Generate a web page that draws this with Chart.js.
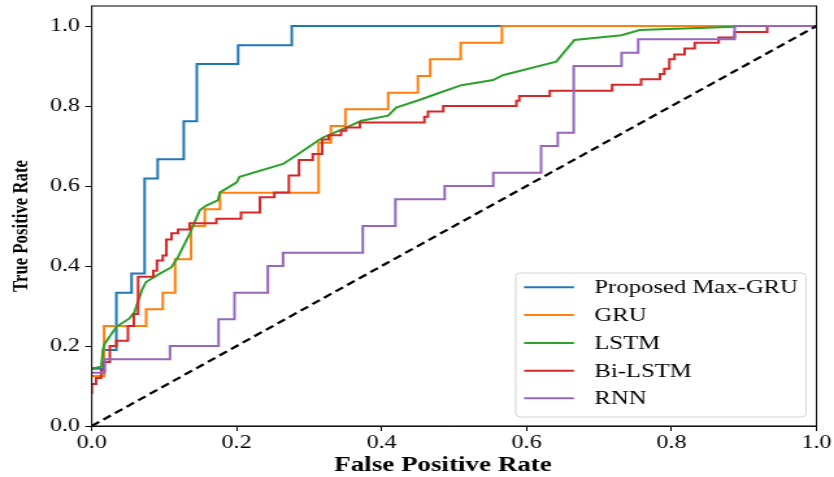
<!DOCTYPE html>
<html>
<head>
<meta charset="utf-8">
<script src="https://cdn.jsdelivr.net/npm/chart.js"></script>
<style>
  html, body { margin:0; padding:0; background:#fff; overflow:hidden; }
  #wrap { width:642px; height:477px; transform:scaleX(1.2991); transform-origin:0 0; }
</style>
</head>
<body>
<div id="wrap"><canvas id="c"></canvas></div>
<script>
// ---- data ----
const seriesNames = ['Proposed Max-GRU', 'GRU', 'LSTM', 'Bi-LSTM', 'RNN'];
const seriesColors = ['#1f77b4', '#ff7f0e', '#2ca02c', '#d62728', '#9467bd'];
const xTickLabels = ['0.0', '0.2', '0.4', '0.6', '0.8', '1.0'];
const yTickLabels = ['0.0', '0.2', '0.4', '0.6', '0.8', '1.0'];
const xAxisTitle = 'False Positive Rate';
const yAxisTitle = 'True Positive Rate';

const maxGruFpr = [0, 0.016, 0.016, 0.034, 0.034, 0.055, 0.055, 0.073, 0.073, 0.091, 0.091, 0.127, 0.127, 0.145, 0.145, 0.202, 0.202, 0.276, 0.276, 1];
const maxGruTpr = [0.143, 0.143, 0.190, 0.190, 0.333, 0.333, 0.381, 0.381, 0.619, 0.619, 0.667, 0.667, 0.762, 0.762, 0.905, 0.905, 0.952, 0.952, 1, 1];

const gruFpr = [0, 0.017, 0.017, 0.075, 0.075, 0.098, 0.098, 0.115, 0.115, 0.137, 0.137, 0.156, 0.156, 0.177, 0.177, 0.313, 0.313, 0.330, 0.330, 0.350, 0.350, 0.409, 0.409, 0.450, 0.450, 0.467, 0.467, 0.509, 0.509, 0.566, 0.566, 1];
const gruTpr = [0.125, 0.125, 0.250, 0.250, 0.292, 0.292, 0.333, 0.333, 0.417, 0.417, 0.500, 0.500, 0.542, 0.542, 0.583, 0.583, 0.708, 0.708, 0.750, 0.750, 0.792, 0.792, 0.833, 0.833, 0.875, 0.875, 0.917, 0.917, 0.958, 0.958, 1, 1];

const lstmFpr = [0, 0.013, 0.016, 0.018, 0.034, 0.052, 0.059, 0.069, 0.075, 0.094, 0.110, 0.119, 0.135, 0.149, 0.158, 0.174, 0.177, 0.200, 0.204, 0.264, 0.282, 0.312, 0.319, 0.351, 0.372, 0.409, 0.420, 0.452, 0.475, 0.510, 0.554, 0.567, 0.641, 0.666, 0.731, 0.756, 0.887, 0.887, 1];
const lstmTpr = [0.144, 0.148, 0.194, 0.206, 0.248, 0.269, 0.285, 0.339, 0.360, 0.381, 0.397, 0.422, 0.480, 0.539, 0.551, 0.564, 0.584, 0.609, 0.623, 0.655, 0.676, 0.713, 0.721, 0.746, 0.763, 0.776, 0.796, 0.815, 0.830, 0.852, 0.865, 0.877, 0.911, 0.965, 0.977, 0.990, 0.998, 1, 1];

const biLstmFpr = [0, 0, 0.006, 0.006, 0.013, 0.013, 0.017, 0.017, 0.025, 0.025, 0.034, 0.034, 0.050, 0.050, 0.058, 0.058, 0.064, 0.064, 0.085, 0.085, 0.090, 0.090, 0.098, 0.098, 0.103, 0.103, 0.110, 0.110, 0.119, 0.119, 0.135, 0.135, 0.172, 0.172, 0.206, 0.206, 0.232, 0.232, 0.252, 0.252, 0.272, 0.272, 0.286, 0.286, 0.305, 0.305, 0.318, 0.318, 0.327, 0.327, 0.344, 0.344, 0.351, 0.351, 0.370, 0.370, 0.459, 0.459, 0.464, 0.464, 0.485, 0.485, 0.586, 0.586, 0.590, 0.590, 0.632, 0.632, 0.718, 0.718, 0.758, 0.758, 0.784, 0.784, 0.790, 0.790, 0.797, 0.797, 0.804, 0.804, 0.818, 0.818, 0.832, 0.832, 0.865, 0.865, 0.887, 0.887, 0.932, 0.932, 1];
const biLstmTpr = [0.080, 0.105, 0.105, 0.120, 0.120, 0.140, 0.140, 0.160, 0.160, 0.200, 0.200, 0.213, 0.213, 0.250, 0.250, 0.280, 0.280, 0.373, 0.373, 0.388, 0.388, 0.414, 0.414, 0.426, 0.426, 0.466, 0.466, 0.482, 0.482, 0.491, 0.491, 0.507, 0.507, 0.518, 0.518, 0.534, 0.534, 0.572, 0.572, 0.584, 0.584, 0.626, 0.626, 0.665, 0.665, 0.680, 0.680, 0.716, 0.716, 0.727, 0.727, 0.738, 0.738, 0.746, 0.746, 0.759, 0.759, 0.773, 0.773, 0.786, 0.786, 0.800, 0.800, 0.813, 0.813, 0.825, 0.825, 0.838, 0.838, 0.853, 0.853, 0.867, 0.867, 0.880, 0.880, 0.893, 0.893, 0.917, 0.917, 0.929, 0.929, 0.944, 0.944, 0.958, 0.958, 0.971, 0.971, 0.985, 0.985, 1, 1];

const rnnFpr = [0, 0.018, 0.018, 0.108, 0.108, 0.175, 0.175, 0.197, 0.197, 0.243, 0.243, 0.264, 0.264, 0.374, 0.374, 0.419, 0.419, 0.487, 0.487, 0.554, 0.554, 0.620, 0.620, 0.643, 0.643, 0.665, 0.665, 0.731, 0.731, 0.754, 0.754, 0.887, 0.887, 1];
const rnnTpr = [0.133, 0.133, 0.167, 0.167, 0.200, 0.200, 0.267, 0.267, 0.333, 0.333, 0.400, 0.400, 0.433, 0.433, 0.500, 0.500, 0.567, 0.567, 0.600, 0.600, 0.633, 0.633, 0.700, 0.700, 0.733, 0.733, 0.900, 0.900, 0.933, 0.933, 0.967, 0.967, 1, 1];

const chanceFpr = [0, 1];
const chanceTpr = [0, 1];

// ---- build chart ----
const FONT = "'Liberation Serif', 'Times New Roman', Times, serif";
const fprs = [maxGruFpr, gruFpr, lstmFpr, biLstmFpr, rnnFpr];
const tprs = [maxGruTpr, gruTpr, lstmTpr, biLstmTpr, rnnTpr];
const toPts = (xs, ys) => xs.map((x, i) => ({x: x, y: ys[i]}));

const curveSets = seriesNames.map((name, i) => ({
  label: name,
  data: toPts(fprs[i], tprs[i]),
  borderColor: seriesColors[i],
  backgroundColor: seriesColors[i],
  borderWidth: 2,
  pointRadius: 0,
  tension: 0,
  fill: false
}));
// Chart.js paints dataset 0 last (on top): put later series first, like matplotlib z-order
const datasets = [{
  label: 'chance',
  data: toPts(chanceFpr, chanceTpr),
  borderColor: '#000',
  borderWidth: 2.2,
  borderDash: [7, 4],
  pointRadius: 0,
  fill: false
}].concat(curveSets.slice().reverse());

const framePlugin = {
  id: 'frame',
  afterDraw(chart) {
    const {ctx, chartArea: a} = chart;
    ctx.save();
    ctx.strokeStyle = '#111';
    ctx.lineWidth = 1.1;
    ctx.strokeRect(a.left, a.top, a.right - a.left, a.bottom - a.top);
    // axis titles (positioned as in the reference figure)
    ctx.fillStyle = '#000';
    ctx.textAlign = 'center';
    ctx.textBaseline = 'middle';
    ctx.font = 'bold 20.8px ' + FONT;
    ctx.fillText(xAxisTitle, 341, 466);
    ctx.translate(17, 226);
    ctx.rotate(-Math.PI / 2);
    ctx.font = 'bold 16.8px ' + FONT;
    ctx.fillText(yAxisTitle, 0, 0);
    ctx.restore();
  }
};

const legendPlugin = {
  id: 'mplLegend',
  afterDraw(chart) {
    const ctx = chart.ctx;
    const x0 = 397, y0 = 273, w = 223.4, h = 144, r = 3.5;
    ctx.save();
    ctx.beginPath();
    ctx.moveTo(x0 + r, y0);
    ctx.arcTo(x0 + w, y0, x0 + w, y0 + h, r);
    ctx.arcTo(x0 + w, y0 + h, x0, y0 + h, r);
    ctx.arcTo(x0, y0 + h, x0, y0, r);
    ctx.arcTo(x0, y0, x0 + w, y0, r);
    ctx.closePath();
    ctx.fillStyle = 'rgba(255,255,255,0.85)';
    ctx.fill();
    ctx.strokeStyle = '#d3d3d3';
    ctx.lineWidth = 1;
    ctx.stroke();
    const rowY = [287.3, 315, 343, 370.7, 398.3];
    ctx.font = '19px ' + FONT;
    ctx.textBaseline = 'middle';
    ctx.textAlign = 'left';
    seriesNames.forEach((name, i) => {
      ctx.beginPath();
      ctx.strokeStyle = seriesColors[i];
      ctx.lineWidth = 2;
      ctx.moveTo(403.4, rowY[i]);
      ctx.lineTo(441.8, rowY[i]);
      ctx.stroke();
      ctx.fillStyle = '#000';
      ctx.fillText(name, 457.5, rowY[i] + 1);
    });
    ctx.restore();
  }
};

new Chart(document.getElementById('c'), {
  type: 'line',
  data: { datasets: datasets },
  options: {
    responsive: true,
    maintainAspectRatio: false,
    animation: false,
    devicePixelRatio: 1,
    layout: { padding: { left: 0, right: 13.5, top: 6, bottom: 0 } },
    plugins: { legend: { display: false }, tooltip: { enabled: false } },
    scales: {
      x: {
        type: 'linear', min: 0, max: 1,
        ticks: {
          stepSize: 0.2, includeBounds: false, autoSkip: false, maxRotation: 0,
          callback: (v) => xTickLabels[Math.round(v / 0.2)],
          font: { family: FONT, size: 18.5 }, color: '#000', padding: 1
        },
        grid: { display: true, drawOnChartArea: false, drawTicks: true, tickLength: 5, tickWidth: 1, tickColor: '#000' },
        border: { display: true, color: '#111', width: 1 },
        title: { display: false },
        afterFit: (s) => { s.height = 51; s.paddingLeft = 0; s.paddingRight = 0; }
      },
      y: {
        type: 'linear', min: 0, max: 1.05,
        ticks: {
          stepSize: 0.2, includeBounds: false, autoSkip: false,
          callback: (v) => yTickLabels[Math.round(v / 0.2)],
          font: { family: FONT, size: 18.5 }, color: '#000', padding: 4
        },
        afterBuildTicks: (s) => { s.ticks = s.ticks.filter(t => t.value <= 1.0001); },
        grid: { display: true, drawOnChartArea: false, drawTicks: true, tickLength: 5, tickWidth: 1, tickColor: '#000' },
        border: { display: true, color: '#111', width: 1 },
        title: { display: false },
        afterFit: (s) => { s.width = 70.6; s.paddingTop = 0; s.paddingBottom = 0; }
      }
    }
  },
  plugins: [framePlugin, legendPlugin]
});
</script>
</body>
</html>
